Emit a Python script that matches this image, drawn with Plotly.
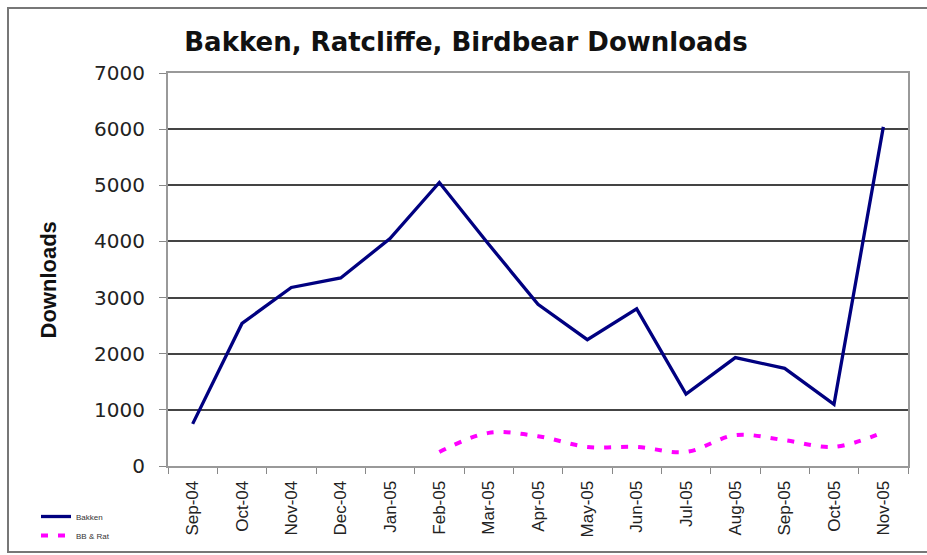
import plotly.graph_objects as go

months = ["Sep-04", "Oct-04", "Nov-04", "Dec-04", "Jan-05", "Feb-05", "Mar-05",
          "Apr-05", "May-05", "Jun-05", "Jul-05", "Aug-05", "Sep-05", "Oct-05", "Nov-05"]
bakken = [750, 2540, 3180, 3350, 4050, 5050, 3950, 2880, 2250, 2800, 1280, 1930, 1740, 1100, 6040]
bb_rat = [None, None, None, None, None, 250, 590, 530, 340, 340, 250, 550, 460, 340, 600]
y_ticks = [0, 1000, 2000, 3000, 4000, 5000, 6000, 7000]

W, H = 927, 555
ml, mr, mt, mb = 168, 19, 73, 89
pw, ph = W - ml - mr, H - mt - mb

def px_x(p):
    return (p - ml) / pw

def px_y(p):
    return (H - mb - p) / ph

fig = go.Figure()
fig.add_trace(go.Scatter(x=months, y=bakken, name="Bakken", mode="lines",
                         line=dict(color="#000080", width=3.3)))
fig.add_trace(go.Scatter(x=months, y=bb_rat, name="BB & Rat", mode="lines",
                         line=dict(color="#ff00ff", width=4, dash="7px,10px",
                                   shape="spline", smoothing=1.0)))

fig.update_layout(
    width=W, height=H,
    margin=dict(l=ml, r=mr, t=mt, b=mb, pad=0, autoexpand=False),
    paper_bgcolor="white", plot_bgcolor="white",
    font=dict(family="Arial, Liberation Sans, sans-serif", color="#222"),
    title=dict(text="<b>Bakken, Ratcliffe, Birdbear Downloads</b>",
               x=466 / W, xanchor="center", y=1 - 42 / H, yanchor="middle",
               font=dict(size=26, color="#111", family="DejaVu Sans")),
    showlegend=True,
    legend=dict(x=px_x(36), y=px_y(502), xanchor="left", yanchor="top",
                font=dict(size=8, color="#333"), bgcolor="rgba(0,0,0,0)",
                tracegroupgap=2, itemwidth=30),
    xaxis=dict(type="category", categoryorder="array", categoryarray=months,
               tickangle=-90, tickfont=dict(size=17, color="#222"),
               ticks="outside", ticklen=6, tickcolor="#888", tickson="boundaries",
               ticklabelstandoff=6, automargin=False,
               showline=True, linecolor="#999", linewidth=2, mirror=True,
               showgrid=False, range=[-0.5, len(months) - 0.5]),
    yaxis=dict(range=[0, 7000], tickvals=y_ticks,
               tickfont=dict(size=20, color="#222", family="DejaVu Sans"),
               ticks="outside", ticklen=7, tickcolor="#888",
               ticklabelstandoff=10, automargin=False,
               showline=True, linecolor="#999", linewidth=2, mirror=True,
               showgrid=True, gridcolor="#444", gridwidth=1.5, zeroline=False),
    annotations=[dict(text="<b>Downloads</b>", textangle=-90, x=px_x(33), y=px_y(280),
                      xref="paper", yref="paper", showarrow=False,
                      font=dict(size=22, color="#111"))],
    shapes=[dict(type="rect", xref="paper", yref="paper",
                 x0=px_x(8), x1=px_x(940), y0=px_y(552), y1=px_y(8),
                 line=dict(color="#777", width=2), layer="below")],
)

fig.write_html("out.html")
